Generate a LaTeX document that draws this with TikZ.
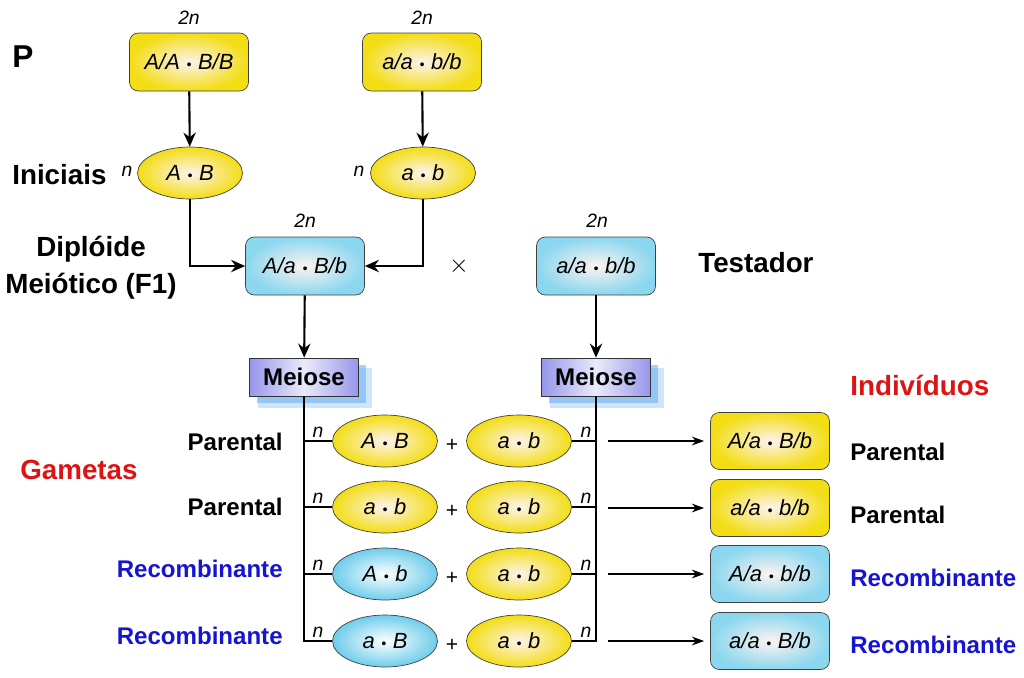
\documentclass[tikz,border=0pt]{standalone}
\usepackage{fontspec}
\setmainfont{Liberation Sans}
\usepackage{tikz}
\usetikzlibrary{arrows.meta,shapes.geometric,shadows}
\definecolor{genyellow}{RGB}{243,221,20}
\definecolor{genblue}{RGB}{110,205,235}
\definecolor{genpale}{RGB}{253,243,240}
\definecolor{meioviolet}{RGB}{150,150,235}
\definecolor{meioglow}{RGB}{100,170,240}
\definecolor{labelred}{RGB}{220,20,20}
\definecolor{labelblue}{RGB}{20,20,210}
\newcommand{\gdot}{\hspace{0.3em}{\footnotesize\textbullet}\hspace{0.3em}}
\tikzset{arr/.style={-{Stealth[length=8pt,width=7pt]},line width=1.2pt},
 thinarr/.style={-{Stealth[length=7pt,width=5pt]},line width=0.8pt},
 branch/.style={line width=0.9pt},
 every node/.style={font=\fontsize{12.5}{14}\selectfont\itshape}}
\begin{document}
\begin{tikzpicture}[x=0.02cm,y=-0.02cm,
 lab/.style={inner sep=0pt,font=\fontsize{13.7}{21}\selectfont\bfseries},
 biglab/.style={inner sep=0pt,font=\fontsize{15.8}{21}\selectfont\bfseries},
 tn/.style={font=\fontsize{11}{12}\selectfont\itshape},
 ybox/.style={draw=black!75,rounded corners=5pt,inner color=genpale,outer color=genyellow,minimum width=2.38cm,minimum height=1.16cm},
 bbox/.style={ybox,outer color=genblue!80},
 yell/.style={ellipse,draw=black!75,inner color=genpale,outer color=genyellow,minimum width=2.1cm,minimum height=1.04cm},
 bell/.style={yell,inner color=white,outer color=genblue},
 meio/.style={draw=black!80,left color=meioviolet,right color=meioviolet,middle color=meioviolet!20!white,minimum width=2.18cm,minimum height=0.76cm,font=\fontsize{13.7}{16}\selectfont\bfseries,
  drop shadow={shadow xshift=6pt,shadow yshift=-6pt,shadow scale=1.04,fill=meioglow,opacity=.3},
  drop shadow={shadow xshift=4pt,shadow yshift=-4pt,fill=meioglow,opacity=.55}}]
\useasboundingbox (0,0) rectangle (1024,677);
% parentais
\node[biglab,font=\fontsize{18}{20}\selectfont\bfseries,anchor=west] (P) at (12,57) {P};
\node[tn] (twoA) at (189,18) {2n};
\node[tn] (twoa) at (422,18) {2n};
\node[ybox] (PA) at (189,62) {A/A\gdot B/B};
\node[ybox] (Pa) at (422,62) {a/a\gdot b/b};
\node[biglab,anchor=west] (ini) at (12,175) {Iniciais};
\node[yell] (IA) at (190,173) {A\gdot B};
\node[yell] (Ia) at (423,173) {a\gdot b};
\node[tn] (nA) at (127,171) {n};
\node[tn] (na) at (359,171) {n};
% F1 e testador
\node[biglab,align=center] (dipl) at (91,268) {Diplóide\\Meiótico (F1)};
\node[tn] (twoF) at (305,221) {2n};
\node[tn] (twoT) at (597,221) {2n};
\node[bbox] (F1) at (305,266) {A/a\gdot B/b};
\node[font=\Large] (x) at (459,266) {$\times$};
\node[bbox] (T) at (596,266) {a/a\gdot b/b};
\node[biglab,anchor=west] (test) at (698,263) {Testador};
\draw[arr] (PA) -- (IA);
\draw[arr] (Pa) -- (Ia);
\draw[arr] (IA.south) |- (F1.west);
\draw[arr] (Ia.south) |- (F1.east);
% meiose
\node[meio] (ML) at (304,377) {Meiose};
\node[meio] (MR) at (596,377) {Meiose};
\draw[arr] (F1) -- (ML);
\draw[arr] (T) -- (MR);
\node[biglab,labelred,anchor=west] (ind) at (850,385) {Indivíduos};
\node[biglab,labelred,anchor=west] (gam) at (20,470) {Gametas};
% gametas
\node[yell] (g1A) at (385,441) {A\gdot B};
\node[yell] (g2A) at (385,507) {a\gdot b};
\node[bell] (g3A) at (385,574) {A\gdot b};
\node[bell] (g4A) at (385,641) {a\gdot B};
\node[yell] (g1B) at (519,441) {a\gdot b};
\node[yell] (g2B) at (519,507) {a\gdot b};
\node[yell] (g3B) at (519,574) {a\gdot b};
\node[yell] (g4B) at (519,641) {a\gdot b};
\node[font=\large] (p1) at (452,445) {+};
\node[font=\large] (p2) at (452,511) {+};
\node[font=\large] (p3) at (452,578) {+};
\node[font=\large] (p4) at (452,645) {+};
\node[tn] (n1L) at (318,432) {n};
\node[tn] (n2L) at (318,498) {n};
\node[tn] (n3L) at (318,565) {n};
\node[tn] (n4L) at (318,632) {n};
\node[tn] (n1R) at (586,432) {n};
\node[tn] (n2R) at (586,498) {n};
\node[tn] (n3R) at (586,565) {n};
\node[tn] (n4R) at (586,632) {n};
\draw[branch] (ML.south) |- (g4A.west);
\draw[branch] (ML.south |- g1A.west) -- (g1A.west);
\draw[branch] (ML.south |- g2A.west) -- (g2A.west);
\draw[branch] (ML.south |- g3A.west) -- (g3A.west);
\draw[branch] (MR.south) |- (g4B.east);
\draw[branch] (g1B.east) -- (g1B.east -| MR.south);
\draw[branch] (g2B.east) -- (g2B.east -| MR.south);
\draw[branch] (g3B.east) -- (g3B.east -| MR.south);
\node[lab,anchor=east] (l1) at (283,442) {Parental};
\node[lab,anchor=east] (l2) at (283,507) {Parental};
\node[lab,labelblue,anchor=east] (l3) at (283,569) {Recombinante};
\node[lab,labelblue,anchor=east] (l4) at (283,636) {Recombinante};
% descendentes
\node[ybox,minimum height=1.14cm] (o1) at (770,441) {A/a\gdot B/b};
\node[ybox,minimum height=1.14cm] (o2) at (770,508) {a/a\gdot b/b};
\node[bbox,minimum height=1.14cm] (o3) at (770,574) {A/a\gdot b/b};
\node[bbox,minimum height=1.14cm] (o4) at (770,641) {a/a\gdot B/b};
\draw[thinarr,shorten <=0.24cm,shorten >=0.12cm] (o1.west -| MR.south) -- (o1.west);
\draw[thinarr,shorten <=0.24cm,shorten >=0.12cm] (o2.west -| MR.south) -- (o2.west);
\draw[thinarr,shorten <=0.24cm,shorten >=0.12cm] (o3.west -| MR.south) -- (o3.west);
\draw[thinarr,shorten <=0.24cm,shorten >=0.12cm] (o4.west -| MR.south) -- (o4.west);
\node[lab,anchor=west] (r1) at (850,452) {Parental};
\node[lab,anchor=west] (r2) at (850,515) {Parental};
\node[lab,labelblue,anchor=west] (r3) at (850,578) {Recombinante};
\node[lab,labelblue,anchor=west] (r4) at (850,645) {Recombinante};
\end{tikzpicture}
\end{document}
